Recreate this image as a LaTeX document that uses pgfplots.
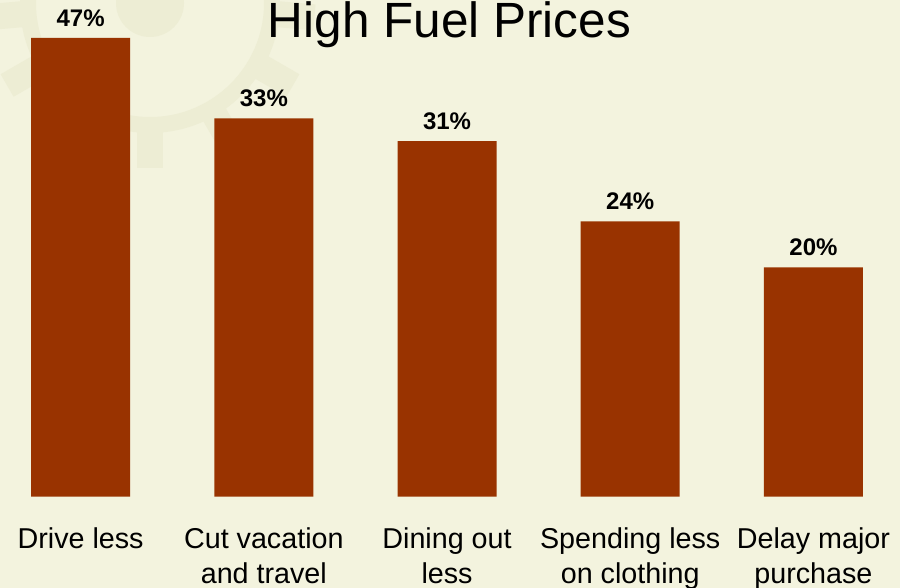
\documentclass[border=0pt]{standalone}
\usepackage{fontspec}
\setmainfont{Liberation Sans}
\usepackage{pgfplots}
\usepackage{pgfplotstable}
\pgfplotsset{compat=1.18}
\definecolor{bg}{HTML}{F3F3DE}
\definecolor{gear}{HTML}{EDEDD4}
\definecolor{barc}{HTML}{993300}
\pgfplotstableread{
x v
0 47
1 33
2 31
3 24
4 20
}\datatable
\begin{document}
\begin{tikzpicture}[x=1pt,y=1pt]
\path[use as bounding box, fill=bg] (0,0) rectangle (900,588);
% faint gear watermark
\begin{scope}
\clip (0,0) rectangle (900,588);
\draw[gear, line width=16pt] (150,585) circle (122);
\fill[gear] (150,585) circle (34);
\foreach \a in {-60,-120,-30,-150,-90,-5,-175} {
  \fill[gear, rotate around={\a+90:(150,585)}] (137,420) rectangle (163,460);
}
\end{scope}
\begin{axis}[
  at={(-1.8pt,91.3pt)}, anchor=south west,
  scale only axis, width=897.68pt, height=458.7pt,
  xmin=-0.45, xmax=4.45, ymin=0, ymax=40,
  clip=false,
  axis x line*=bottom, axis y line=none,
  axis line style={draw=none},
  ytick=\empty,
  xtick={0,1,2,3,4},
  major tick length=0pt,
  /pgf/number format/assume math mode=true,
  xticklabels={{Drive less},{Cut vacation\\and travel},{Dining out\\less},{Spending less\\on clothing},{Delay major\\purchase}},
  xticklabel style={align=center, anchor=north, inner sep=0pt, yshift=-31.3pt,
    font=\fontsize{28.7}{34.5}\selectfont},
]
\addplot[ybar, bar width=99pt, fill=barc, draw=none]
  table[x=x, y expr={min(\thisrow{v},40)}] {\datatable};
\addplot[draw=none, mark=none, nodes near coords={\pgfmathprintnumber{\pgfplotspointmeta}\%},
  point meta=explicit,
  every node near coord/.style={anchor=base, inner sep=0pt, yshift=11.5pt,
    font=\fontsize{24}{28}\selectfont\bfseries, text=black}]
  table[x=x, y expr={min(\thisrow{v},40)}, meta=v] {\datatable};
\end{axis}
\node[anchor=base, font=\fontsize{49.5}{59}\selectfont] at (449.5,550) {High Fuel Prices};
\end{tikzpicture}
\end{document}
